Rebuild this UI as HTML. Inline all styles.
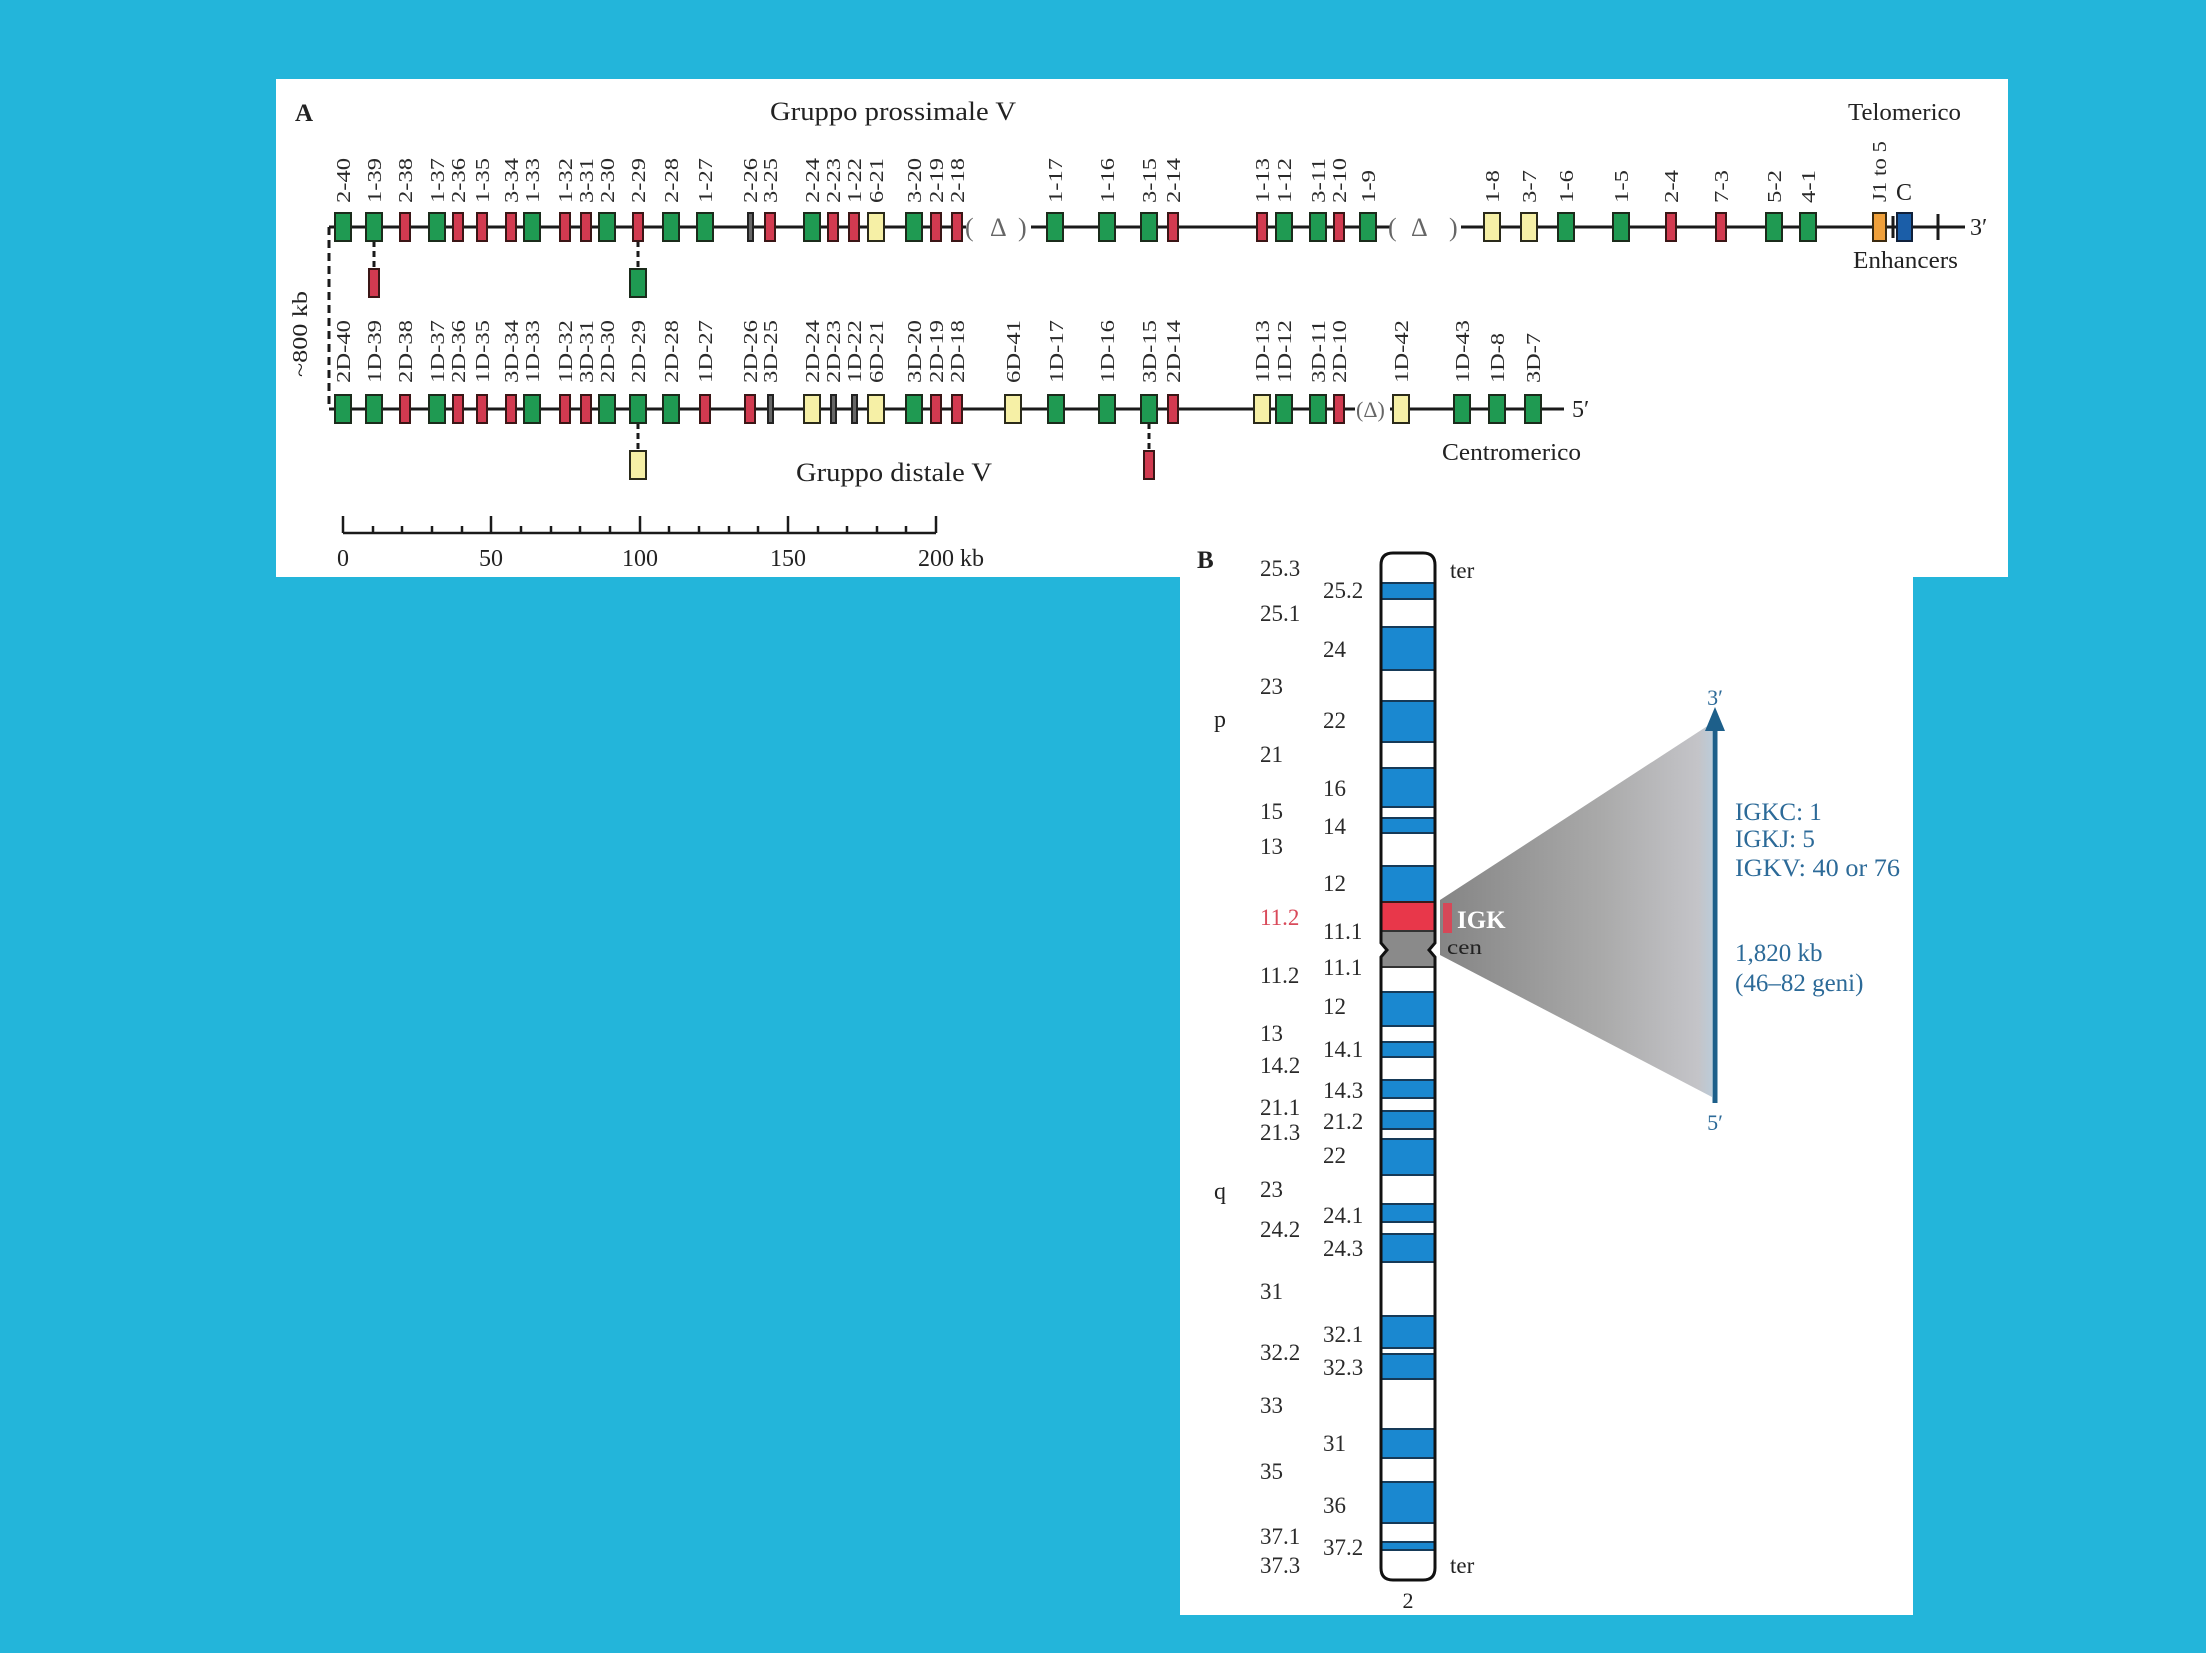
<!DOCTYPE html>
<html><head><meta charset="utf-8">
<style>
html,body{margin:0;padding:0;background:#23b5da;}
svg{display:block;}
text{font-family:"Liberation Serif","DejaVu Serif",serif;}
</style></head>
<body>
<svg width="2206" height="1653" viewBox="0 0 2206 1653" xmlns="http://www.w3.org/2000/svg">
<defs>
<linearGradient id="tri" x1="0" y1="0" x2="1" y2="0">
<stop offset="0" stop-color="#858585"/>
<stop offset="0.6" stop-color="#aaaaaa"/>
<stop offset="0.95" stop-color="#c4c4c8"/>
<stop offset="1" stop-color="#bccbd8"/>
</linearGradient>
<clipPath id="chr"><path d="M1393,553 H1423 Q1435,553 1435,565 V943 L1429,950 L1435,957 V1568 Q1435,1580 1423,1580 H1393 Q1381,1580 1381,1568 V957 L1387,950 L1381,943 V565 Q1381,553 1393,553 Z"/></clipPath>
</defs>
<rect x="0" y="0" width="2206" height="1653" fill="#23b5da"/>
<!-- panels -->
<rect x="276" y="79" width="1732" height="498" fill="#ffffff"/>
<rect x="1180" y="540" width="733" height="1075" fill="#ffffff"/>

<!-- ===== PANEL A ===== -->
<text x="295" y="121" font-size="25" font-weight="bold" fill="#222">A</text>
<text x="770" y="120" font-size="26" fill="#222" textLength="246" lengthAdjust="spacingAndGlyphs">Gruppo prossimale V</text>
<text x="1848" y="120" font-size="24" fill="#222" textLength="113" lengthAdjust="spacingAndGlyphs">Telomerico</text>
<text x="1853" y="268" font-size="24" fill="#222" textLength="105" lengthAdjust="spacingAndGlyphs">Enhancers</text>
<text x="796" y="481" font-size="26" fill="#222" textLength="196" lengthAdjust="spacingAndGlyphs">Gruppo distale V</text>
<text x="1442" y="460" font-size="24" fill="#222" textLength="139" lengthAdjust="spacingAndGlyphs">Centromerico</text>

<!-- row lines -->
<g stroke="#1a1a1a" stroke-width="3" fill="none">
<line x1="329" y1="227" x2="966" y2="227"/>
<line x1="1031" y1="227" x2="1390" y2="227"/>
<line x1="1461" y1="227" x2="1965" y2="227"/>
<line x1="1893" y1="216" x2="1893" y2="238"/>
<line x1="1938" y1="214" x2="1938" y2="240"/>
<line x1="329" y1="409" x2="1355" y2="409"/>
<line x1="1390" y1="409" x2="1564" y2="409"/>
</g>
<line x1="329" y1="227" x2="329" y2="409" stroke="#1a1a1a" stroke-width="3" stroke-dasharray="8,5"/>
<g stroke="#1a1a1a" stroke-width="3" stroke-dasharray="6,4">
<line x1="374" y1="241" x2="374" y2="269"/>
<line x1="638" y1="241" x2="638" y2="269"/>
<line x1="638" y1="423" x2="638" y2="451"/>
<line x1="1149" y1="423" x2="1149" y2="451"/>
</g>
<!-- deltas -->
<g font-size="26" fill="#666">
<text x="965" y="236">(</text><text x="990" y="236">Δ</text><text x="1018" y="236">)</text>
<text x="1388" y="236">(</text><text x="1411" y="236">Δ</text><text x="1449" y="236">)</text>
<text x="1356" y="417" font-size="22">(Δ)</text>
</g>
<text x="1970" y="235" font-size="24" fill="#222">3′</text>
<text x="1572" y="417" font-size="24" fill="#222">5′</text>
<text x="1896" y="200" font-size="24" fill="#222">C</text>

<!-- row1 boxes -->
<g stroke-width="2">
<g fill="#1f9a52" stroke="#1b2b1b">
<rect x="335" y="213" width="16" height="28"/><rect x="366" y="213" width="16" height="28"/>
<rect x="429" y="213" width="16" height="28"/><rect x="524" y="213" width="16" height="28"/>
<rect x="599" y="213" width="16" height="28"/><rect x="663" y="213" width="16" height="28"/>
<rect x="697" y="213" width="16" height="28"/><rect x="804" y="213" width="16" height="28"/>
<rect x="906" y="213" width="16" height="28"/><rect x="1047" y="213" width="16" height="28"/>
<rect x="1099" y="213" width="16" height="28"/><rect x="1141" y="213" width="16" height="28"/>
<rect x="1276" y="213" width="16" height="28"/><rect x="1310" y="213" width="16" height="28"/>
<rect x="1360" y="213" width="16" height="28"/><rect x="1558" y="213" width="16" height="28"/>
<rect x="1613" y="213" width="16" height="28"/><rect x="1766" y="213" width="16" height="28"/>
<rect x="1800" y="213" width="16" height="28"/>
<rect x="630" y="269" width="16" height="28"/>
</g>
<g fill="#d23a50" stroke="#3a1616">
<rect x="400" y="213" width="10" height="28"/><rect x="453" y="213" width="10" height="28"/>
<rect x="477" y="213" width="10" height="28"/><rect x="506" y="213" width="10" height="28"/>
<rect x="560" y="213" width="10" height="28"/><rect x="581" y="213" width="10" height="28"/>
<rect x="633" y="213" width="10" height="28"/><rect x="765" y="213" width="10" height="28"/>
<rect x="828" y="213" width="10" height="28"/><rect x="849" y="213" width="10" height="28"/>
<rect x="931" y="213" width="10" height="28"/><rect x="952" y="213" width="10" height="28"/>
<rect x="1168" y="213" width="10" height="28"/><rect x="1257" y="213" width="10" height="28"/>
<rect x="1334" y="213" width="10" height="28"/><rect x="1666" y="213" width="10" height="28"/>
<rect x="1716" y="213" width="10" height="28"/>
<rect x="369" y="269" width="10" height="28"/>
</g>
<g fill="#f6f0a6" stroke="#2a2a1a">
<rect x="868" y="213" width="16" height="28"/><rect x="1484" y="213" width="16" height="28"/>
<rect x="1521" y="213" width="16" height="28"/>
</g>
<rect x="748" y="213" width="5" height="28" fill="#666" stroke="#222"/>
<rect x="1873" y="213" width="13" height="28" fill="#f0a03a" stroke="#3a2a10"/>
<rect x="1897" y="213" width="15" height="28" fill="#1b5ea8" stroke="#10203a"/>
</g>

<!-- row2 boxes -->
<g stroke-width="2">
<g fill="#1f9a52" stroke="#1b2b1b">
<rect x="335" y="395" width="16" height="28"/><rect x="366" y="395" width="16" height="28"/>
<rect x="429" y="395" width="16" height="28"/><rect x="524" y="395" width="16" height="28"/>
<rect x="599" y="395" width="16" height="28"/><rect x="630" y="395" width="16" height="28"/>
<rect x="663" y="395" width="16" height="28"/><rect x="906" y="395" width="16" height="28"/>
<rect x="1048" y="395" width="16" height="28"/><rect x="1099" y="395" width="16" height="28"/>
<rect x="1141" y="395" width="16" height="28"/><rect x="1276" y="395" width="16" height="28"/>
<rect x="1310" y="395" width="16" height="28"/><rect x="1454" y="395" width="16" height="28"/>
<rect x="1489" y="395" width="16" height="28"/><rect x="1525" y="395" width="16" height="28"/>
</g>
<g fill="#d23a50" stroke="#3a1616">
<rect x="400" y="395" width="10" height="28"/><rect x="453" y="395" width="10" height="28"/>
<rect x="477" y="395" width="10" height="28"/><rect x="506" y="395" width="10" height="28"/>
<rect x="560" y="395" width="10" height="28"/><rect x="581" y="395" width="10" height="28"/>
<rect x="700" y="395" width="10" height="28"/><rect x="745" y="395" width="10" height="28"/>
<rect x="931" y="395" width="10" height="28"/><rect x="952" y="395" width="10" height="28"/>
<rect x="1168" y="395" width="10" height="28"/><rect x="1334" y="395" width="10" height="28"/>
<rect x="1144" y="451" width="10" height="28"/>
</g>
<g fill="#f6f0a6" stroke="#2a2a1a">
<rect x="804" y="395" width="16" height="28"/><rect x="868" y="395" width="16" height="28"/>
<rect x="1005" y="395" width="16" height="28"/><rect x="1254" y="395" width="16" height="28"/>
<rect x="1393" y="395" width="16" height="28"/>
<rect x="630" y="451" width="16" height="28"/>
</g>
<g fill="#666" stroke="#222">
<rect x="768" y="395" width="5" height="28"/><rect x="831" y="395" width="5" height="28"/>
<rect x="852" y="395" width="5" height="28"/>
</g>
</g>

<!-- row1 labels -->
<g font-size="20" fill="#2a2a2a">
<text transform="translate(350,203) rotate(-90)" textLength="45" lengthAdjust="spacingAndGlyphs">2-40</text>
<text transform="translate(381,203) rotate(-90)" textLength="45" lengthAdjust="spacingAndGlyphs">1-39</text>
<text transform="translate(412,203) rotate(-90)" textLength="45" lengthAdjust="spacingAndGlyphs">2-38</text>
<text transform="translate(444,203) rotate(-90)" textLength="45" lengthAdjust="spacingAndGlyphs">1-37</text>
<text transform="translate(465,203) rotate(-90)" textLength="45" lengthAdjust="spacingAndGlyphs">2-36</text>
<text transform="translate(489,203) rotate(-90)" textLength="45" lengthAdjust="spacingAndGlyphs">1-35</text>
<text transform="translate(518,203) rotate(-90)" textLength="45" lengthAdjust="spacingAndGlyphs">3-34</text>
<text transform="translate(539,203) rotate(-90)" textLength="45" lengthAdjust="spacingAndGlyphs">1-33</text>
<text transform="translate(572,203) rotate(-90)" textLength="45" lengthAdjust="spacingAndGlyphs">1-32</text>
<text transform="translate(593,203) rotate(-90)" textLength="45" lengthAdjust="spacingAndGlyphs">3-31</text>
<text transform="translate(614,203) rotate(-90)" textLength="45" lengthAdjust="spacingAndGlyphs">2-30</text>
<text transform="translate(645,203) rotate(-90)" textLength="45" lengthAdjust="spacingAndGlyphs">2-29</text>
<text transform="translate(678,203) rotate(-90)" textLength="45" lengthAdjust="spacingAndGlyphs">2-28</text>
<text transform="translate(712,203) rotate(-90)" textLength="45" lengthAdjust="spacingAndGlyphs">1-27</text>
<text transform="translate(757,203) rotate(-90)" textLength="45" lengthAdjust="spacingAndGlyphs">2-26</text>
<text transform="translate(777,203) rotate(-90)" textLength="45" lengthAdjust="spacingAndGlyphs">3-25</text>
<text transform="translate(819,203) rotate(-90)" textLength="45" lengthAdjust="spacingAndGlyphs">2-24</text>
<text transform="translate(840,203) rotate(-90)" textLength="45" lengthAdjust="spacingAndGlyphs">2-23</text>
<text transform="translate(861,203) rotate(-90)" textLength="45" lengthAdjust="spacingAndGlyphs">1-22</text>
<text transform="translate(883,203) rotate(-90)" textLength="45" lengthAdjust="spacingAndGlyphs">6-21</text>
<text transform="translate(921,203) rotate(-90)" textLength="45" lengthAdjust="spacingAndGlyphs">3-20</text>
<text transform="translate(943,203) rotate(-90)" textLength="45" lengthAdjust="spacingAndGlyphs">2-19</text>
<text transform="translate(964,203) rotate(-90)" textLength="45" lengthAdjust="spacingAndGlyphs">2-18</text>
<text transform="translate(1062,203) rotate(-90)" textLength="45" lengthAdjust="spacingAndGlyphs">1-17</text>
<text transform="translate(1114,203) rotate(-90)" textLength="45" lengthAdjust="spacingAndGlyphs">1-16</text>
<text transform="translate(1156,203) rotate(-90)" textLength="45" lengthAdjust="spacingAndGlyphs">3-15</text>
<text transform="translate(1180,203) rotate(-90)" textLength="45" lengthAdjust="spacingAndGlyphs">2-14</text>
<text transform="translate(1269,203) rotate(-90)" textLength="45" lengthAdjust="spacingAndGlyphs">1-13</text>
<text transform="translate(1291,203) rotate(-90)" textLength="45" lengthAdjust="spacingAndGlyphs">1-12</text>
<text transform="translate(1325,203) rotate(-90)" textLength="45" lengthAdjust="spacingAndGlyphs">3-11</text>
<text transform="translate(1346,203) rotate(-90)" textLength="45" lengthAdjust="spacingAndGlyphs">2-10</text>
<text transform="translate(1375,203) rotate(-90)" textLength="33" lengthAdjust="spacingAndGlyphs">1-9</text>
<text transform="translate(1499,203) rotate(-90)" textLength="33" lengthAdjust="spacingAndGlyphs">1-8</text>
<text transform="translate(1536,203) rotate(-90)" textLength="33" lengthAdjust="spacingAndGlyphs">3-7</text>
<text transform="translate(1573,203) rotate(-90)" textLength="33" lengthAdjust="spacingAndGlyphs">1-6</text>
<text transform="translate(1628,203) rotate(-90)" textLength="33" lengthAdjust="spacingAndGlyphs">1-5</text>
<text transform="translate(1678,203) rotate(-90)" textLength="33" lengthAdjust="spacingAndGlyphs">2-4</text>
<text transform="translate(1728,203) rotate(-90)" textLength="33" lengthAdjust="spacingAndGlyphs">7-3</text>
<text transform="translate(1781,203) rotate(-90)" textLength="33" lengthAdjust="spacingAndGlyphs">5-2</text>
<text transform="translate(1815,203) rotate(-90)" textLength="33" lengthAdjust="spacingAndGlyphs">4-1</text>
<text transform="translate(1886,202) rotate(-90)" textLength="61" lengthAdjust="spacingAndGlyphs">J1 to 5</text>
</g>

<!-- row2 labels -->
<g font-size="20" fill="#2a2a2a">
<text transform="translate(350,383) rotate(-90)" textLength="63" lengthAdjust="spacingAndGlyphs">2D-40</text>
<text transform="translate(381,383) rotate(-90)" textLength="63" lengthAdjust="spacingAndGlyphs">1D-39</text>
<text transform="translate(412,383) rotate(-90)" textLength="63" lengthAdjust="spacingAndGlyphs">2D-38</text>
<text transform="translate(444,383) rotate(-90)" textLength="63" lengthAdjust="spacingAndGlyphs">1D-37</text>
<text transform="translate(465,383) rotate(-90)" textLength="63" lengthAdjust="spacingAndGlyphs">2D-36</text>
<text transform="translate(489,383) rotate(-90)" textLength="63" lengthAdjust="spacingAndGlyphs">1D-35</text>
<text transform="translate(518,383) rotate(-90)" textLength="63" lengthAdjust="spacingAndGlyphs">3D-34</text>
<text transform="translate(539,383) rotate(-90)" textLength="63" lengthAdjust="spacingAndGlyphs">1D-33</text>
<text transform="translate(572,383) rotate(-90)" textLength="63" lengthAdjust="spacingAndGlyphs">1D-32</text>
<text transform="translate(593,383) rotate(-90)" textLength="63" lengthAdjust="spacingAndGlyphs">3D-31</text>
<text transform="translate(614,383) rotate(-90)" textLength="63" lengthAdjust="spacingAndGlyphs">2D-30</text>
<text transform="translate(645,383) rotate(-90)" textLength="63" lengthAdjust="spacingAndGlyphs">2D-29</text>
<text transform="translate(678,383) rotate(-90)" textLength="63" lengthAdjust="spacingAndGlyphs">2D-28</text>
<text transform="translate(712,383) rotate(-90)" textLength="63" lengthAdjust="spacingAndGlyphs">1D-27</text>
<text transform="translate(757,383) rotate(-90)" textLength="63" lengthAdjust="spacingAndGlyphs">2D-26</text>
<text transform="translate(777,383) rotate(-90)" textLength="63" lengthAdjust="spacingAndGlyphs">3D-25</text>
<text transform="translate(819,383) rotate(-90)" textLength="63" lengthAdjust="spacingAndGlyphs">2D-24</text>
<text transform="translate(840,383) rotate(-90)" textLength="63" lengthAdjust="spacingAndGlyphs">2D-23</text>
<text transform="translate(861,383) rotate(-90)" textLength="63" lengthAdjust="spacingAndGlyphs">1D-22</text>
<text transform="translate(883,383) rotate(-90)" textLength="63" lengthAdjust="spacingAndGlyphs">6D-21</text>
<text transform="translate(921,383) rotate(-90)" textLength="63" lengthAdjust="spacingAndGlyphs">3D-20</text>
<text transform="translate(943,383) rotate(-90)" textLength="63" lengthAdjust="spacingAndGlyphs">2D-19</text>
<text transform="translate(964,383) rotate(-90)" textLength="63" lengthAdjust="spacingAndGlyphs">2D-18</text>
<text transform="translate(1020,383) rotate(-90)" textLength="63" lengthAdjust="spacingAndGlyphs">6D-41</text>
<text transform="translate(1063,383) rotate(-90)" textLength="63" lengthAdjust="spacingAndGlyphs">1D-17</text>
<text transform="translate(1114,383) rotate(-90)" textLength="63" lengthAdjust="spacingAndGlyphs">1D-16</text>
<text transform="translate(1156,383) rotate(-90)" textLength="63" lengthAdjust="spacingAndGlyphs">3D-15</text>
<text transform="translate(1180,383) rotate(-90)" textLength="63" lengthAdjust="spacingAndGlyphs">2D-14</text>
<text transform="translate(1269,383) rotate(-90)" textLength="63" lengthAdjust="spacingAndGlyphs">1D-13</text>
<text transform="translate(1291,383) rotate(-90)" textLength="63" lengthAdjust="spacingAndGlyphs">1D-12</text>
<text transform="translate(1325,383) rotate(-90)" textLength="63" lengthAdjust="spacingAndGlyphs">3D-11</text>
<text transform="translate(1346,383) rotate(-90)" textLength="63" lengthAdjust="spacingAndGlyphs">2D-10</text>
<text transform="translate(1408,383) rotate(-90)" textLength="63" lengthAdjust="spacingAndGlyphs">1D-42</text>
<text transform="translate(1469,383) rotate(-90)" textLength="63" lengthAdjust="spacingAndGlyphs">1D-43</text>
<text transform="translate(1504,383) rotate(-90)" textLength="50" lengthAdjust="spacingAndGlyphs">1D-8</text>
<text transform="translate(1540,383) rotate(-90)" textLength="50" lengthAdjust="spacingAndGlyphs">3D-7</text>
</g>

<text transform="translate(307,377) rotate(-90)" font-size="21" fill="#222" textLength="86" lengthAdjust="spacingAndGlyphs">~800 kb</text>

<!-- scale bar -->
<g stroke="#1a1a1a" stroke-width="2.5">
<line x1="343" y1="533" x2="936" y2="533"/>
<line x1="343" y1="516" x2="343" y2="533"/>
<line x1="491" y1="516" x2="491" y2="533"/>
<line x1="640" y1="516" x2="640" y2="533"/>
<line x1="788" y1="516" x2="788" y2="533"/>
<line x1="936" y1="516" x2="936" y2="533"/>
<line x1="373" y1="526" x2="373" y2="533"/><line x1="402" y1="526" x2="402" y2="533"/>
<line x1="432" y1="526" x2="432" y2="533"/><line x1="462" y1="526" x2="462" y2="533"/>
<line x1="521" y1="526" x2="521" y2="533"/><line x1="551" y1="526" x2="551" y2="533"/>
<line x1="580" y1="526" x2="580" y2="533"/><line x1="610" y1="526" x2="610" y2="533"/>
<line x1="669" y1="526" x2="669" y2="533"/><line x1="699" y1="526" x2="699" y2="533"/>
<line x1="729" y1="526" x2="729" y2="533"/><line x1="758" y1="526" x2="758" y2="533"/>
<line x1="818" y1="526" x2="818" y2="533"/><line x1="847" y1="526" x2="847" y2="533"/>
<line x1="877" y1="526" x2="877" y2="533"/><line x1="906" y1="526" x2="906" y2="533"/>
</g>
<g font-size="24" fill="#222">
<text x="343" y="566" text-anchor="middle">0</text>
<text x="491" y="566" text-anchor="middle">50</text>
<text x="640" y="566" text-anchor="middle">100</text>
<text x="788" y="566" text-anchor="middle">150</text>
<text x="918" y="566">200 kb</text>
</g>

<!-- ===== PANEL B ===== -->
<text x="1197" y="568" font-size="25" font-weight="bold" fill="#222">B</text>
<text x="1214" y="727" font-size="24" fill="#222">p</text>
<text x="1214" y="1199" font-size="24" fill="#222">q</text>

<!-- triangle -->
<polygon points="1440,900 1712,723 1712,1097 1440,955" fill="url(#tri)"/>
<rect x="1443" y="903" width="9" height="30" fill="#d64858"/>

<!-- chromosome -->
<g clip-path="url(#chr)">
<rect x="1375" y="545" width="70" height="1045" fill="#ffffff"/>
<g fill="#1a88d0" stroke="#163a58" stroke-width="2">
<rect x="1378" y="583" width="60" height="16"/>
<rect x="1378" y="627" width="60" height="43"/>
<rect x="1378" y="701" width="60" height="41"/>
<rect x="1378" y="768" width="60" height="39"/>
<rect x="1378" y="818" width="60" height="15"/>
<rect x="1378" y="866" width="60" height="36"/>
<rect x="1378" y="992" width="60" height="34"/>
<rect x="1378" y="1042" width="60" height="15"/>
<rect x="1378" y="1080" width="60" height="18"/>
<rect x="1378" y="1111" width="60" height="18"/>
<rect x="1378" y="1139" width="60" height="36"/>
<rect x="1378" y="1204" width="60" height="18"/>
<rect x="1378" y="1234" width="60" height="28"/>
<rect x="1378" y="1316" width="60" height="32"/>
<rect x="1378" y="1354" width="60" height="25"/>
<rect x="1378" y="1429" width="60" height="29"/>
<rect x="1378" y="1482" width="60" height="41"/>
<rect x="1378" y="1542" width="60" height="8"/>
</g>
<rect x="1378" y="902" width="60" height="29" fill="#e8374a" stroke="#3a1a1a" stroke-width="2"/>
<rect x="1378" y="931" width="60" height="36" fill="#8a8a8a" stroke="#333" stroke-width="2"/>
</g>
<path d="M1393,553 H1423 Q1435,553 1435,565 V943 L1429,950 L1435,957 V1568 Q1435,1580 1423,1580 H1393 Q1381,1580 1381,1568 V957 L1387,950 L1381,943 V565 Q1381,553 1393,553 Z" fill="none" stroke="#111" stroke-width="3"/>

<text x="1457" y="928" font-size="25" font-weight="bold" fill="#ffffff">IGK</text>
<text x="1447" y="954" font-size="21" fill="#222" textLength="35" lengthAdjust="spacingAndGlyphs">cen</text>
<text x="1450" y="578" font-size="23" fill="#222">ter</text>
<text x="1450" y="1573" font-size="23" fill="#222">ter</text>
<text x="1408" y="1608" font-size="22" fill="#222" text-anchor="middle">2</text>

<!-- band labels left -->
<g font-size="23" fill="#2a2a2a">
<text x="1260" y="576">25.3</text>
<text x="1260" y="621">25.1</text>
<text x="1260" y="694">23</text>
<text x="1260" y="762">21</text>
<text x="1260" y="819">15</text>
<text x="1260" y="854">13</text>
<text x="1260" y="925" fill="#d94a5a">11.2</text>
<text x="1260" y="983">11.2</text>
<text x="1260" y="1041">13</text>
<text x="1260" y="1073">14.2</text>
<text x="1260" y="1115">21.1</text>
<text x="1260" y="1140">21.3</text>
<text x="1260" y="1197">23</text>
<text x="1260" y="1237">24.2</text>
<text x="1260" y="1299">31</text>
<text x="1260" y="1360">32.2</text>
<text x="1260" y="1413">33</text>
<text x="1260" y="1479">35</text>
<text x="1260" y="1544">37.1</text>
<text x="1260" y="1573">37.3</text>
</g>
<!-- band labels right -->
<g font-size="23" fill="#2a2a2a">
<text x="1323" y="598">25.2</text>
<text x="1323" y="657">24</text>
<text x="1323" y="728">22</text>
<text x="1323" y="796">16</text>
<text x="1323" y="834">14</text>
<text x="1323" y="891">12</text>
<text x="1323" y="939">11.1</text>
<text x="1323" y="975">11.1</text>
<text x="1323" y="1014">12</text>
<text x="1323" y="1057">14.1</text>
<text x="1323" y="1098">14.3</text>
<text x="1323" y="1129">21.2</text>
<text x="1323" y="1163">22</text>
<text x="1323" y="1223">24.1</text>
<text x="1323" y="1256">24.3</text>
<text x="1323" y="1342">32.1</text>
<text x="1323" y="1375">32.3</text>
<text x="1323" y="1451">31</text>
<text x="1323" y="1513">36</text>
<text x="1323" y="1555">37.2</text>
</g>

<!-- arrow -->
<line x1="1715" y1="1103" x2="1715" y2="726" stroke="#1d5f8a" stroke-width="5"/>
<polygon points="1715,707 1705,731 1725,731" fill="#1d5f8a"/>
<text x="1715" y="705" font-size="22" fill="#2c6a98" text-anchor="middle">3′</text>
<text x="1715" y="1130" font-size="22" fill="#2c6a98" text-anchor="middle">5′</text>
<g font-size="25" fill="#2c6a98">
<text x="1735" y="820">IGKC: 1</text>
<text x="1735" y="847">IGKJ: 5</text>
<text x="1735" y="876" textLength="165" lengthAdjust="spacingAndGlyphs">IGKV: 40 or 76</text>
<text x="1735" y="961">1,820 kb</text>
<text x="1735" y="991">(46–82 geni)</text>
</g>
</svg>
</body></html>
